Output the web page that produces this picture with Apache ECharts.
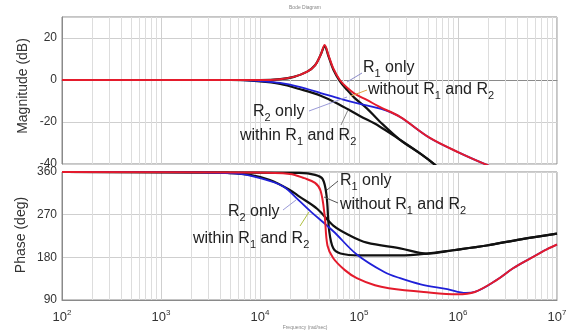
<!DOCTYPE html>
<html lang="en">
<head>
<meta charset="UTF-8">
<title>Bode Diagram</title>
<script src="https://cdn.jsdelivr.net/npm/echarts@6/dist/echarts.min.js"></script>
<style>
  html, body { margin: 0; padding: 0; background: #fff; }
  #chart { width: 566px; height: 334px; }
</style>
</head>
<body>
<div id="chart"></div>
<script>
// frequency (rad/sec) and magnitude (dB)
var magRed    = [[1e2,0],[1e4,0],[1.6e4,0.4],[2.2e4,1.5],[3e4,4],[3.6e4,7],[4.1e4,12],[4.5e4,16.7],[4.9e4,12],[5.5e4,5.5],[6.4e4,0],[7.5e4,-3.5],[9e4,-6.5],[1.2e5,-9.5],[1.6e5,-12.7],[2.6e5,-17.6],[5.2e5,-27.6],[1.05e6,-34.8],[1.86e6,-40],[3e6,-44]];
var magBlackA = [[1e2,0],[1e4,0],[1.6e4,0.4],[2.2e4,1.5],[3e4,4],[3.6e4,7],[4.1e4,12],[4.5e4,16],[4.9e4,11.5],[5.5e4,5],[6.4e4,-0.5],[7.5e4,-4.5],[9e4,-8.5],[1.2e5,-13.5],[1.6e5,-19.5],[2.6e5,-28.5],[4.2e5,-35.2],[5.9e5,-40.5],[8e5,-46]];
var magBlackB = [[1e2,0],[5e3,0],[1e4,-0.7],[1.6e4,-1.9],[2.5e4,-4.3],[4.1e4,-7.5],[6.5e4,-12],[1.02e5,-17.1],[1.6e5,-22],[2.6e5,-28.5],[4.2e5,-35.2],[5.9e5,-40.5],[8e5,-46]];
var magBlue   = [[1e2,0],[6.3e3,0],[1e4,-0.5],[1.6e4,-1.4],[2.5e4,-3.3],[4.1e4,-6.2],[6.5e4,-9],[1.02e5,-11.4],[1.45e5,-13],[1.8e5,-14.2],[2.6e5,-17.6],[5.2e5,-27.6],[1.05e6,-34.8],[1.86e6,-40],[3e6,-44]];

// frequency (rad/sec) and phase (deg)
var phRed    = [[1e2,360],[8e3,359],[2e4,356],[2.8e4,347],[3.6e4,337],[4.1e4,320],[4.5e4,268],[4.8e4,205],[5.5e4,178],[7.2e4,153],[9.5e4,136],[1.45e5,121],[2e5,115],[4.5e5,107],[9.8e5,102],[1.48e6,107],[2.45e6,132],[3.6e6,157],[5.4e6,178],[7.9e6,197],[1e7,207]];
var phBlackA = [[1e2,360],[2.5e4,358],[3.6e4,354],[4.3e4,345],[4.7e4,310],[5e4,236],[5.5e4,199],[6.5e4,188],[1.02e5,184],[2.6e5,184],[4.9e5,188],[8.9e5,195],[1.95e6,205],[4.3e6,218],[1e7,230]];
var phBlackB = [[1e2,360],[2.45e3,359],[4.7e3,358],[7.9e3,354],[1.26e4,343],[2e4,322],[2.5e4,308],[3.8e4,282],[5.5e4,247],[8.1e4,226],[1.2e5,211],[2.6e5,199],[4.9e5,188],[8.9e5,195],[1.95e6,205],[4.3e6,218],[1e7,230]];
var phBlue   = [[1e2,360],[2.45e3,359],[6.3e3,356],[1e4,347],[1.7e4,330],[2.5e4,299],[3.2e4,278],[5.5e4,235],[9.5e4,186],[1.8e5,149],[2.6e5,136],[4.2e5,123],[7.8e5,113],[1.2e6,105],[1.48e6,107],[2.45e6,132],[3.6e6,157],[5.4e6,178],[7.9e6,197],[1e7,207]];

var FONT = 'Liberation Sans, Arial, sans-serif';
var GRIDC = '#dddddd';

// minor log grid lines (2..9 per decade)
var minorLines = [];
for (var e = 2; e < 7; e++) {
    for (var k = 2; k < 10; k++) minorLines.push({ xAxis: k * Math.pow(10, e) });
}

var chart = echarts.init(document.getElementById('chart'), null, { renderer: 'canvas' });

var xAxisBase = function (idx, showLabel) {
    return {
        gridIndex: idx, type: 'log', logBase: 10, min: 1e2, max: 1e7,
        axisLine: { show: true, lineStyle: { color: '#8a8a8a', width: 1 } },
        axisTick: { show: false },
        splitLine: { show: true, lineStyle: { color: '#cfcfcf', width: 1 } },
        axisLabel: {
            show: showLabel, margin: 9, color: '#333', fontFamily: FONT, fontSize: 13,
            formatter: function (v) { return '10{sup|' + Math.round(Math.log10(v)) + '}'; },
            rich: { sup: { fontSize: 8, verticalAlign: 'top', color: '#333', padding: [0, 0, 8, 0] } }
        }
    };
};

var yAxisBase = function (idx, min, max, step, showMax) {
    return {
        gridIndex: idx, type: 'value', min: min, max: max, interval: step,
        axisLine: { show: true, lineStyle: { color: '#8a8a8a' } },
        axisTick: { show: false },
        splitLine: { show: true, lineStyle: { color: '#cfcfcf', width: 1 } },
        axisLabel: { color: '#333', fontSize: 12, fontFamily: FONT, margin: 5, showMaxLabel: showMax, showMinLabel: true }
    };
};

var curve = function (name, data, color, width, ax) {
    return {
        name: name, type: 'line', data: data, xAxisIndex: ax, yAxisIndex: ax, z: 10,
        showSymbol: false, smooth: 0.35, clip: true,
        lineStyle: { color: color, width: width }
    };
};

var gridLines = function (ax) {
    return {
        type: 'line', data: [], xAxisIndex: ax, yAxisIndex: ax, z: 1,
        markLine: {
            z: 1, silent: true, symbol: ['none', 'none'], label: { show: false },
            lineStyle: { color: GRIDC, type: 'solid', width: 1 },
            data: minorLines
        }
    };
};

var subRich = {
    s: { fontSize: 11, fontFamily: FONT, fill: '#222', lineHeight: 11, verticalAlign: 'bottom' }
};
var note = function (x, y, text) {
    return {
        type: 'text', x: x, y: y, z: 100,
        style: {
            text: text, fill: '#222', fontSize: 16, fontFamily: FONT,
            lineHeight: 22, verticalAlign: 'middle', align: 'left', rich: subRich
        }
    };
};
var lead = function (x1, y1, x2, y2, c) {
    return { type: 'line', z: 100, shape: { x1: x1, y1: y1, x2: x2, y2: y2 }, style: { stroke: c, lineWidth: 1 } };
};
var axisName = function (x, y, text) {
    return {
        type: 'text', x: x, y: y, rotation: Math.PI / 2, z: 100,
        style: { text: text, fill: '#333', fontSize: 14, fontFamily: FONT, align: 'center', verticalAlign: 'middle' }
    };
};

chart.setOption({
    animation: false,
    backgroundColor: '#fff',
    grid: [
        { left: 62, right: 9, top: 17, height: 147, show: true, borderColor: '#8a8a8a', borderWidth: 1, outerBoundsMode: 'none' },
        { left: 62, right: 9, top: 172, height: 128, show: true, borderColor: '#8a8a8a', borderWidth: 1, outerBoundsMode: 'none' }
    ],
    xAxis: [xAxisBase(0, false), xAxisBase(1, true)],
    yAxis: [
        yAxisBase(0, -40, 30, 20, false),
        yAxisBase(1, 90, 360, 90, true)
    ],
    series: [
        gridLines(0), gridLines(1),
        curve('within R1 and R2', magBlackB, '#111', 2.2, 0),
        curve('R1 only', magBlackA, '#111', 2.2, 0),
        curve('R2 only', magBlue, '#2020d8', 1.8, 0),
        curve('without R1 and R2', magRed, '#e41b2c', 2, 0),
        curve('within R1 and R2', phBlackB, '#111', 2.2, 1),
        curve('R1 only', phBlackA, '#111', 2.2, 1),
        curve('R2 only', phBlue, '#2020d8', 1.8, 1),
        curve('without R1 and R2', phRed, '#e41b2c', 2, 1)
    ],
    graphic: [
        {
            type: 'text', x: 305, y: 8, z: 100,
            style: { text: 'Bode Diagram', fontSize: 5, fill: '#888', fontFamily: FONT, align: 'center', verticalAlign: 'middle' }
        },
        axisName(23, 86, 'Magnitude (dB)'),
        axisName(21, 235, 'Phase (deg)'),
        note(363, 68, 'R{s|1} only'),
        note(368, 90, 'without R{s|1} and R{s|2}'),
        note(253, 112, 'R{s|2} only'),
        note(240, 136, 'within R{s|1} and R{s|2}'),
        lead(347, 82, 362, 73, '#8c8cc8'),
        lead(351, 96, 367, 90, '#e0a040'),
        lead(309, 111, 347, 97, '#9a9ad8'),
        lead(341, 125, 348, 110, '#8a8a8a'),

        note(340, 181, 'R{s|1} only'),
        note(340, 205, 'without R{s|1} and R{s|2}'),
        note(228, 212, 'R{s|2} only'),
        note(193, 239, 'within R{s|1} and R{s|2}'),
        lead(327, 190, 338, 181, '#555'),
        lead(324, 197, 338, 203, '#555'),
        lead(283, 210, 296, 200, '#9a9ad8'),
        lead(300, 226, 309, 212, '#b0c040'),
        {
            type: 'text', x: 305, y: 328, z: 100,
            style: { text: 'Frequency (rad/sec)', fontSize: 5, fill: '#888', fontFamily: FONT, align: 'center', verticalAlign: 'middle' }
        }
    ]
});
</script>
</body>
</html>
